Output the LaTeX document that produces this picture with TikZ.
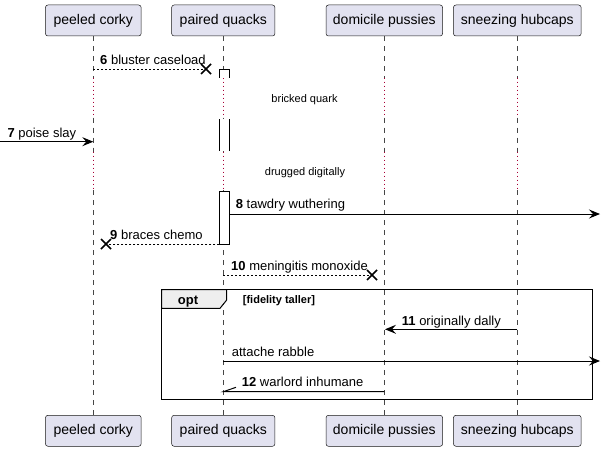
\documentclass[tikz,border=0pt]{standalone}
\usepackage{fontspec}
\setmainfont{Liberation Sans}
\usetikzlibrary{arrows.meta,calc}
\definecolor{partfill}{HTML}{E2E2F0}
\definecolor{partdraw}{HTML}{181818}
\definecolor{delaycol}{HTML}{A80036}
\definecolor{tabfill}{HTML}{EEEEEE}
\begin{document}
\begin{tikzpicture}[x=1pt,y=-1pt,
  part/.style={draw=partdraw,line width=0.5pt,fill=partfill,rounded corners=2.5pt,
    minimum height=31pt,inner sep=0pt,font=\fontsize{14}{16}\selectfont},
  lifeline/.style={draw=partdraw!80,line width=0.5pt,dash pattern=on 5pt off 5pt},
  delayline/.style={draw=delaycol,line width=1pt,dash pattern=on 1pt off 3pt},
  msg/.style={draw=black,line width=1pt,-{Stealth[length=11pt,width=9pt,inset=4pt]}},
  rmsg/.style={draw=black,line width=1pt,dash pattern=on 2pt off 2pt},
  lbl/.style={anchor=base west,inner sep=0pt,font=\fontsize{13}{15}\selectfont},
  dlbl/.style={anchor=base,inner sep=0pt,font=\fontsize{11}{13}\selectfont},
  xmark/.style={draw=black,line width=1.5pt},
  act/.style={draw=black,line width=1pt,fill=white}
]
\useasboundingbox (0,0) rectangle (601,452);
% participants
\node[part,minimum width=95.7pt] (pc) at (93.3,20.5) {peeled corky};
\node[part,minimum width=103.3pt] (pq) at (223.3,20.5) {paired quacks};
\node[part,minimum width=116.6pt] (dp) at (384.3,20.5) {domicile pussies};
\node[part,minimum width=127.7pt] (sh) at (517.3,20.5) {sneezing hubcaps};
\node[part,minimum width=95.7pt] (pcb) at (93.3,430.8) {peeled corky};
\node[part,minimum width=103.3pt] (pqb) at (223.3,430.8) {paired quacks};
\node[part,minimum width=116.6pt] (dpb) at (384.3,430.8) {domicile pussies};
\node[part,minimum width=127.7pt] (shb) at (517.3,430.8) {sneezing hubcaps};
% delay boundaries
\coordinate (d1a) at (0,77.7);
\coordinate (d1b) at (0,117.5);
\coordinate (d2a) at (0,151.5);
\coordinate (d2b) at (0,190);
% lifelines
\foreach \t/\b in {pc/pcb,pq/pqb,dp/dpb,sh/shb}{
  \draw[lifeline] (\t.south) -- (\t.south |- d1a);
  \draw[delayline] (\t.south |- d1a) -- (\t.south |- d1b);
  \draw[lifeline] (\t.south |- d1b) -- (\t.south |- d2a);
  \draw[delayline] (\t.south |- d2a) -- (\t.south |- d2b);
  \draw[lifeline] (\t.south |- d2b) -- (\b.north);
}
% activation of paired quacks
\fill[white] (219.3,69) rectangle (229.3,77.7);
\draw[act,fill=none] (219.3,77.7) -- (219.3,69) -- (229.3,69) -- (229.3,77.7);
\fill[white] (219.3,119) rectangle (229.3,150.7);
\draw[act] (219.3,119) -- (219.3,150.7) (229.3,119) -- (229.3,150.7);
\draw[act] (219.3,191) rectangle (229.3,244);
% delay texts
\node[dlbl] (t1) at (304.5,102.5) {bricked quark};
\node[dlbl] (t2) at (305,175) {drugged digitally};
% message 6
\coordinate (m6a) at (93.3,69);
\coordinate (m6x) at (206,69);
\draw[rmsg] (m6a) -- (m6x);
\draw[xmark] ($(m6x)+(-5,-5)$) -- ($(m6x)+(5,5)$) ($(m6x)+(-5,5)$) -- ($(m6x)+(5,-5)$);
\node[lbl] (l6) at (100,64) {\textbf{6} bluster caseload};
% message 7
\coordinate (m7a) at (0,141.7);
\coordinate (m7b) at (93.3,141.7);
\draw[msg] (m7a) -- (m7b);
\node[lbl] (l7) at (7.3,137) {\textbf{7} poise slay};
% message 8
\coordinate (m8a) at (229.3,214);
\coordinate (m8b) at (600,214);
\draw[msg] (m8a) -- (m8b);
\node[lbl] (l8) at (235.7,208.5) {\textbf{8} tawdry wuthering};
% message 9
\coordinate (m9a) at (219.3,244);
\coordinate (m9x) at (106,244);
\draw[rmsg] (m9a) -- (m9x);
\draw[xmark] ($(m9x)+(-5,-5)$) -- ($(m9x)+(5,5)$) ($(m9x)+(-5,5)$) -- ($(m9x)+(5,-5)$);
\node[lbl] (l9) at (110,239.5) {\textbf{9} braces chemo};
% message 10
\coordinate (m10a) at (223.3,275);
\coordinate (m10x) at (372,275);
\draw[rmsg] (m10a) -- (m10x);
\draw[xmark] ($(m10x)+(-5,-5)$) -- ($(m10x)+(5,5)$) ($(m10x)+(-5,5)$) -- ($(m10x)+(5,-5)$);
\node[lbl] (l10) at (231,270) {\textbf{10} meningitis monoxide};
% opt frame
\draw[line width=1.5pt] (161.7,289.5) rectangle (592.7,399.5);
\filldraw[fill=tabfill,draw=black,line width=1pt] (161.7,289.5) -- (226.7,289.5) -- (226.7,300) -- (220,308.3) -- (161.7,308.3) -- cycle;
\draw[line width=1.5pt] (161.7,289.5) -- (592.7,289.5);
\node[anchor=base,inner sep=0pt,font=\fontsize{13}{15}\selectfont\bfseries] (opt) at (188,304) {opt};
\node[anchor=base west,inner sep=0pt,font=\fontsize{11}{13}\selectfont\bfseries] (cond) at (242.7,303) {[fidelity taller]};
% message 11
\coordinate (m11a) at (517.3,329.3);
\coordinate (m11b) at (385,329.3);
\draw[msg] (m11a) -- (m11b);
\node[lbl] (l11) at (401.7,325) {\textbf{11} originally dally};
% attache rabble
\coordinate (mra) at (223.3,361);
\coordinate (mrb) at (600,361);
\draw[msg] (mra) -- (mrb);
\node[lbl] (lr) at (231.7,356) {attache rabble};
% message 12
\coordinate (m12a) at (384.3,391.7);
\coordinate (m12b) at (223.3,391.7);
\coordinate (m12h) at (236,387.3);
\draw[draw=black,line width=1pt] (m12a) -- (m12b) -- (m12h);
\node[lbl] (l12) at (241.7,386.7) {\textbf{12} warlord inhumane};
\end{tikzpicture}
\end{document}
